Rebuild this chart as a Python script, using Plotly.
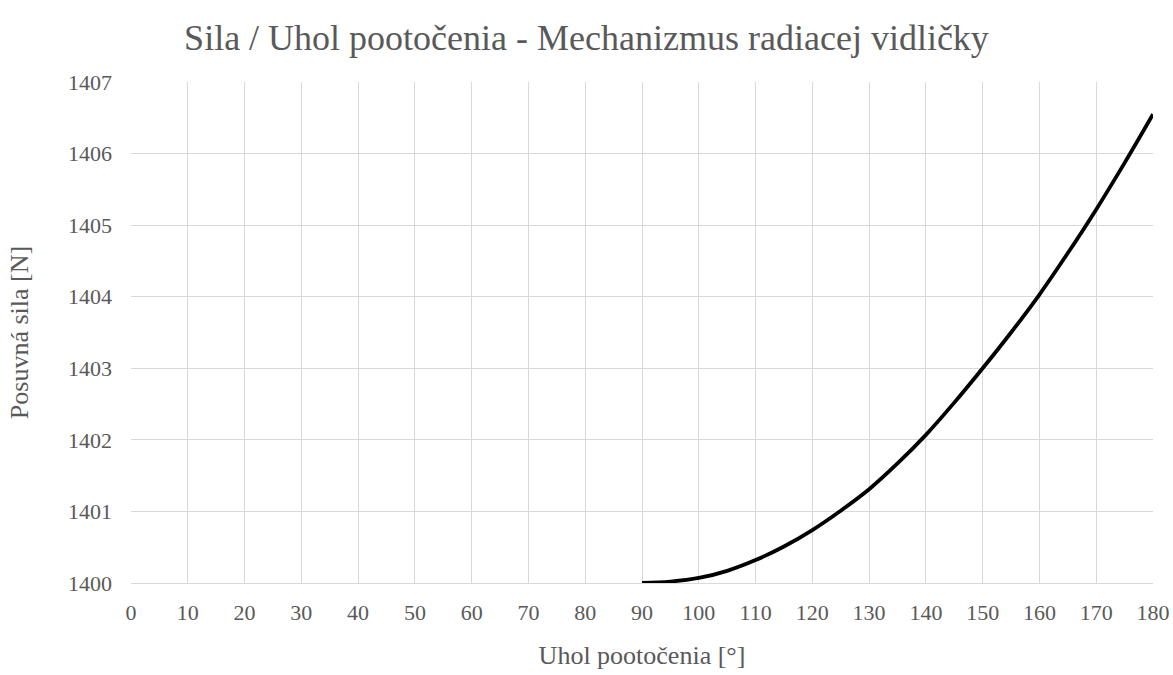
import plotly.graph_objects as go

# Angle of rotation [deg] and corresponding sliding force [N]
uhol = [90, 95, 100, 105, 110, 115, 120, 125, 130, 135,
        140, 145, 150, 155, 160, 165, 170, 175, 180]
sila = [1400.00, 1400.02, 1400.07, 1400.17, 1400.32, 1400.51, 1400.74, 1401.01, 1401.31, 1401.67,
        1402.07, 1402.52, 1403.00, 1403.50, 1404.03, 1404.61, 1405.22, 1405.87, 1406.55]

x_ticks = list(range(0, 181, 10))
y_ticks = list(range(1400, 1408))

FONT = "Liberation Serif"
TXT = "#595959"
GRID = "#d9d9d9"

fig = go.Figure()
fig.add_trace(go.Scatter(
    x=uhol, y=sila, mode="lines",
    line=dict(color="black", width=3.8, shape="spline"),
    showlegend=False,
))

fig.update_layout(
    width=1173, height=675,
    margin=dict(l=131, r=20, t=82, b=92),
    paper_bgcolor="white", plot_bgcolor="white",
    font=dict(family=FONT, color=TXT, size=22),
    title=dict(
        text="Sila / Uhol pootočenia - Mechanizmus radiacej vidličky",
        x=0.5, xanchor="center", xref="container",
        y=1 - 37 / 675, yanchor="middle", yref="container",
        font=dict(family=FONT, color=TXT, size=36),
    ),
    xaxis=dict(
        range=[0, 180], tickvals=x_ticks, ticktext=[str(v) for v in x_ticks],
        showgrid=True, gridcolor=GRID, gridwidth=1.3,
        showline=True, linecolor=GRID, linewidth=1.3,
        zeroline=False, ticks="", ticklen=0, ticklabelstandoff=9,
        tickfont=dict(family=FONT, size=22, color=TXT),
        title=dict(text="Uhol pootočenia [°]", standoff=22,
                   font=dict(family=FONT, size=26, color=TXT)),
        automargin=False,
    ),
    yaxis=dict(
        range=[1400, 1407], tickvals=y_ticks, ticktext=[str(v) for v in y_ticks],
        showgrid=True, gridcolor=GRID, gridwidth=1.3,
        showline=False, zeroline=False, ticks="", ticklabelstandoff=18,
        tickfont=dict(family=FONT, size=22, color=TXT),
        title=dict(text="Posuvná sila [N]", standoff=31,
                   font=dict(family=FONT, size=26, color=TXT)),
        automargin=False,
    ),
)

fig.write_html("out.html")
